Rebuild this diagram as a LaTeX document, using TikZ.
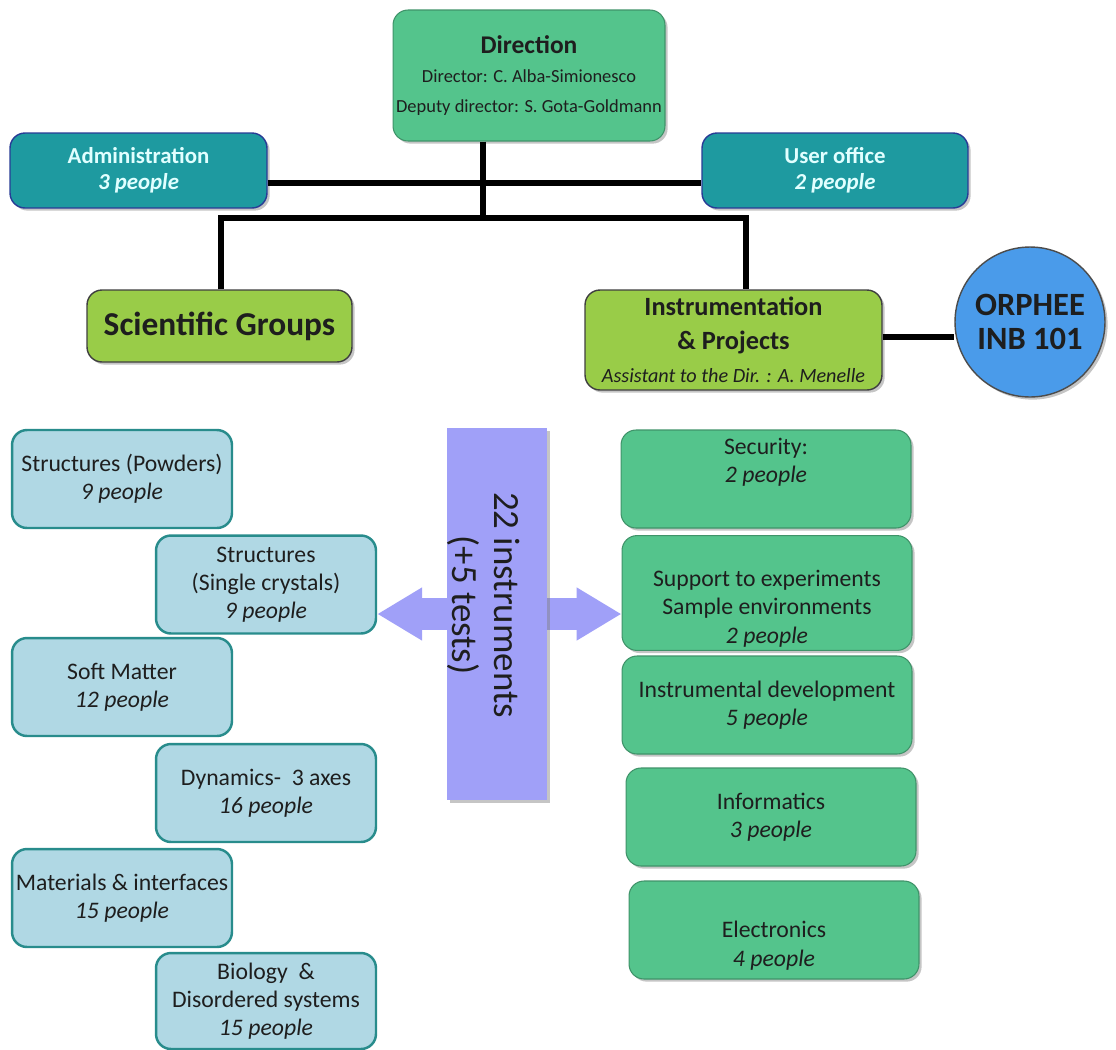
\documentclass[tikz,border=0pt]{standalone}
\usepackage{fontspec}
\setmainfont{Carlito}
\usetikzlibrary{shadows,arrows.meta,backgrounds}
\definecolor{dirgreen}{RGB}{84,196,140}
\definecolor{adminteal}{RGB}{30,154,160}
\definecolor{adminedge}{RGB}{40,60,150}
\definecolor{admintext}{RGB}{225,255,255}
\definecolor{limegreen}{RGB}{153,204,72}
\definecolor{skyblue}{RGB}{176,216,228}
\definecolor{skyedge}{RGB}{40,140,140}
\definecolor{orphblue}{RGB}{74,155,234}
\definecolor{barviolet}{RGB}{160,160,248}
\definecolor{inktext}{RGB}{30,30,30}
\tikzset{
  box/.style={rectangle, rounded corners=0.3cm, align=center, inner xsep=1pt, inner ysep=2pt, text=inktext,
    font=\fontsize{13.5}{16}\selectfont},
  shade box/.style={drop shadow={shadow xshift=1.5pt, shadow yshift=-1.5pt, opacity=0.45}},
  groupbox/.style={box, fill=skyblue, draw=skyedge, line width=1.4pt,
    minimum width=4.4cm, minimum height=1.96cm},
  servbox/.style={box, shade box, fill=dirgreen, draw=dirgreen!75!black, line width=0.6pt,
    minimum width=5.8cm, minimum height=1.96cm},
  officebox/.style={box, shade box, fill=adminteal, draw=adminedge, line width=0.8pt,
    text=admintext, minimum height=1.5cm, font=\fontsize{13}{15}\selectfont\bfseries},
  headbox/.style={box, shade box, fill=limegreen, draw=black!75, line width=0.8pt},
  link/.style={line width=3.4pt, black},
  arm/.style={line width=0.64cm, barviolet, -{Triangle[width=1cm,length=0.9cm]}},
}
\newcommand{\ppl}[1]{\textit{#1 people}}
\begin{document}
\begin{tikzpicture}[x=0.02cm, y=-0.02cm]
\useasboundingbox (0,0) rectangle (1116,1049);
% top of the chart
\node[box, shade box, fill=dirgreen, draw=dirgreen!75!black, line width=0.6pt,
  minimum width=5.44cm, minimum height=2.62cm, font=\fontsize{10.5}{17}\selectfont] (dir) at (529,75.5)
  {{\fontsize{14.5}{17}\selectfont\bfseries Direction}\\Director: C. Alba-Simionesco\\Deputy director: S. Gota-Goldmann};
\node[officebox, minimum width=5.14cm] (admin) at (138.5,170.5) {Administration\\\textit{3 people}};
\node[officebox, minimum width=5.32cm] (useroff) at (835,170.5) {User office\\\textit{2 people}};
\node[headbox, minimum width=5.3cm, minimum height=1.44cm, font=\fontsize{19}{21}\selectfont\bfseries] (sci) at (219.5,326) {Scientific Groups};
\node[headbox, minimum width=5.94cm, minimum height=2cm, font=\fontsize{15}{19}\selectfont\bfseries] (instr) at (733.5,340)
  {Instrumentation\\\& Projects\\{\fontsize{11.5}{19}\selectfont\mdseries\itshape Assistant to the Dir. : A. Menelle}};
\node[circle, shade box, fill=orphblue, draw=black!70, line width=0.8pt, minimum size=3cm, align=center,
  text=inktext, font=\fontsize{18.5}{19}\selectfont\bfseries] (orphee) at (1030,322) {ORPHEE\\INB 101};
\coordinate (hub) at (483,218);
\coordinate (tie) at (483,183);
\coordinate (splitL) at (221,218);
\coordinate (splitR) at (746,218);
\draw[link] (dir.south -| hub) -- (hub);
\draw[link] (admin.east |- tie) -- (useroff.west |- tie);
\draw[link] (splitL |- sci.north) -- (splitL) -- (splitR) -- (splitR |- instr.north);
\draw[link] (instr.east |- 0,337) -- (orphee.west |- 0,337);
% scientific groups
\node[groupbox] (powders) at (122,479) {Structures (Powders)\\\ppl{9}};
\node[groupbox] (single) at (266,584.5) {Structures\\(Single crystals)\\\ppl{9}};
\node[groupbox] (soft) at (122,687) {Soft Matter\\\ppl{12}};
\node[groupbox] (dyn) at (266,793) {Dynamics-~ 3 axes\\\ppl{16}};
\node[groupbox] (mater) at (122,898) {Materials \& interfaces\\\ppl{15}};
\node[groupbox, minimum height=1.92cm] (bio) at (266,1001) {Biology ~\&\\Disordered systems\\\ppl{15}};
% technical services
\node[servbox] (secu) at (766,479) {Security:\\\ppl{2}\\\strut};
\node[servbox] (supp) at (767,593) {\strut\\Support to experiments\\Sample environments\\\ppl{2}};
\node[servbox] (instdev) at (767,705) {Instrumental development\\\ppl{5}};
\node[servbox] (info) at (771,817) {Informatics\\\ppl{3}};
\node[servbox] (elec) at (774,930) {\strut\\Electronics\\\ppl{4}};
% instruments
\node[rectangle, shade box, fill=barviolet, minimum width=2cm, minimum height=7.44cm] (instbar) at (497,614) {};
\node[rotate=-90, align=center, text=inktext, font=\fontsize{21}{24}\selectfont] (instlbl) at (484,605)
  {22 instruments\\(+5 tests)};
\begin{scope}[on background layer]
\fill[white] (0,0) rectangle (1116,1049);
\draw[arm] (instbar.center) -- (instbar.center -| single.east);
\draw[arm] (instbar.center) -- (instbar.center -| supp.west);
\end{scope}
\end{tikzpicture}
\end{document}
